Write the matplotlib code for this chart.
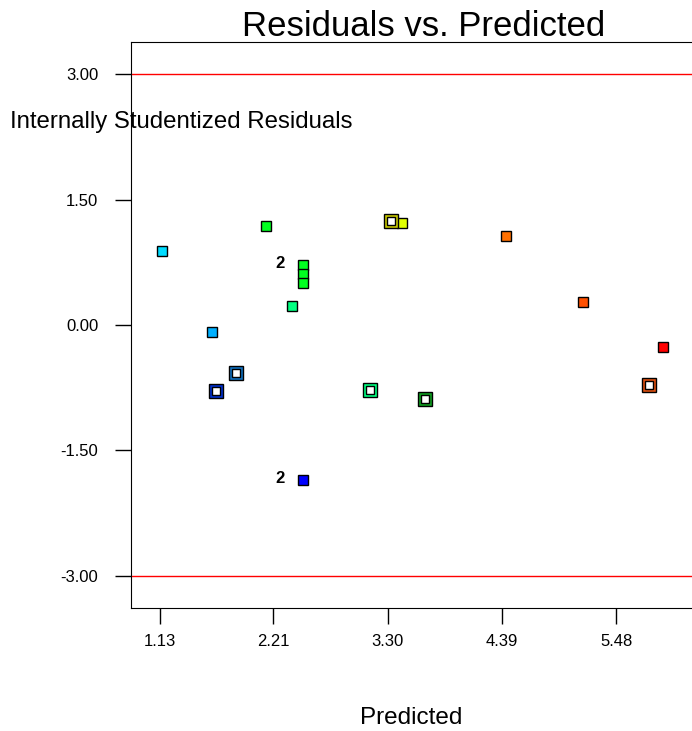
# Residuals vs. Predicted (Design-Expert style diagnostic plot)
import numpy as np
import matplotlib
matplotlib.use("Agg")
import matplotlib.pyplot as plt

plt.rcParams['font.family'] = ['Liberation Sans', 'DejaVu Sans']

# filled points
pred_filled = [1.15, 2.14, 2.49, 2.49, 2.49, 2.39, 1.63, 3.44, 4.43, 5.16, 5.925, 2.49]
resid_filled = [0.885, 1.18, 0.72, 0.61, 0.50, 0.23, -0.08, 1.22, 1.065, 0.275, -0.26, -1.85]
colors_filled = ['#00dcff', '#00ff20', '#00ff20', '#00ff20', '#00ff20', '#00ff80', '#00b0ff',
                 '#e0ff00', '#ff7000', '#ff5000', '#ff0000', '#0000ff']

# open (highlighted) points
pred_open = [1.66, 1.85, 3.13, 3.66, 3.33, 5.79]
resid_open = [-0.79, -0.57, -0.78, -0.89, 1.24, -0.72]
colors_open = ['#0030d0', '#1070c0', '#00ff80', '#10a020', '#c8c800', '#e05010']

# count labels ("2" = two runs at same spot)
count_x = [2.49, 2.49]
count_y = [0.72, -1.85]
count_text = ['2', '2']

xticks = [1.13, 2.21, 3.30, 4.39, 5.48]
yticks = [-3.00, -1.50, 0.00, 1.50, 3.00]
limit = 3.00

fig = plt.figure(figsize=(6.92, 7.31), dpi=100)
ax = fig.add_axes([131 / 692, 1 - 608 / 731, 561 / 692, 566 / 731])

ax.axhline(limit, color='red', lw=1, zorder=1)
ax.axhline(-limit, color='red', lw=1, zorder=1)

for x, y, c in zip(pred_filled, resid_filled, colors_filled):
    ax.plot(x, y, 's', ms=7.5, mfc=c, mec='black', mew=1, zorder=3)

for x, y, c in zip(pred_open, resid_open, colors_open):
    ax.plot(x, y, 's', ms=10.5, mfc=c, mec='black', mew=1, zorder=3)
    ax.plot(x, y, 's', ms=6, mfc='white', mec='black', mew=1, zorder=4)

for x, y, t in zip(count_x, count_y, count_text):
    ax.text(x - 0.22, y + 0.02, t, fontsize=12, ha='center', va='center', fontweight='bold')

ax.set_xlim(0.854, 6.2)
ax.set_ylim(-3.383, 3.383)
ax.set_xticks(xticks)
ax.set_xticklabels(['%.2f' % v for v in xticks], fontsize=12)
ax.set_yticks(yticks)
ax.set_yticklabels(['%.2f' % v for v in yticks], fontsize=12)
ax.tick_params(direction='out', length=11.5, width=1, pad=7)
ax.tick_params(axis='y', pad=12)
ax.spines['right'].set_visible(False)

fig.text(424 / 692, 1 - 27 / 731, 'Residuals vs. Predicted', fontsize=25, ha='center', va='center')
fig.text(10 / 692, 1 - 122 / 731, 'Internally Studentized Residuals', fontsize=17.3, ha='left', va='center')
fig.text(411 / 692, 1 - 718 / 731, 'Predicted', fontsize=17.5, ha='center', va='center')

plt.savefig('out.png', dpi=100)
